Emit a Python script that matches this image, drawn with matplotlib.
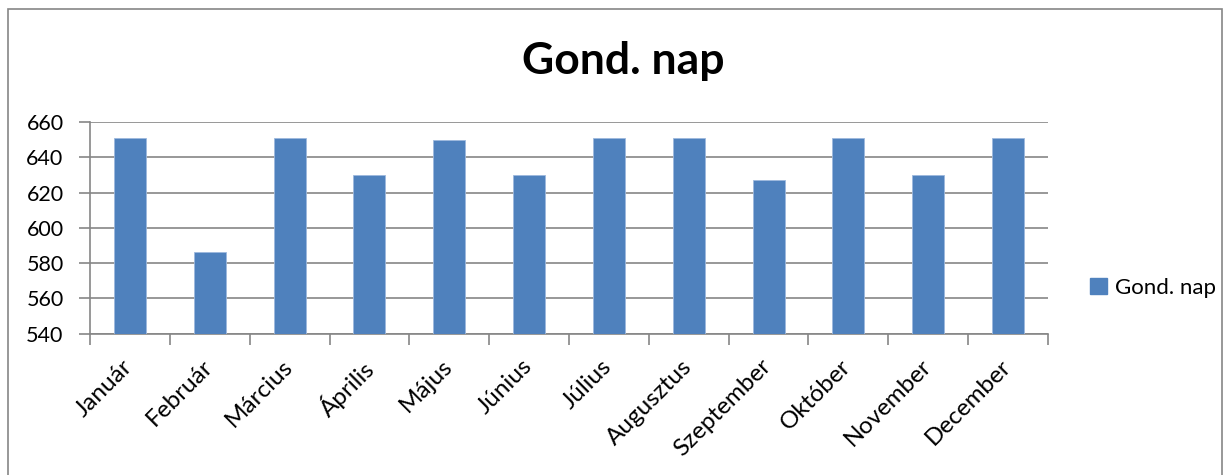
import matplotlib
matplotlib.use("Agg")
import matplotlib.pyplot as plt
import matplotlib.transforms as mtrans
from matplotlib.patches import Rectangle, Patch

months = ["Január", "Február", "Március", "Április", "Május", "Június",
          "Július", "Augusztus", "Szeptember", "Október", "November", "December"]
values = [651, 586, 651, 630, 650, 630, 651, 651, 627, 651, 630, 651]
series_name = "Gond. nap"
yticks = [540, 560, 580, 600, 620, 640, 660]

W, H = 1226, 475
fig = plt.figure(figsize=(W / 100, H / 100), dpi=100)
plt.rcParams['font.family'] = ['Lato', 'DejaVu Sans']

grey = "#868686"
bar_color = "#4F81BD"

# outer chart border
fig.patches.append(Rectangle((8 / W, -0.05), (1222 - 8) / W, (H - 9) / H + 0.05,
                             transform=fig.transFigure, fill=False,
                             edgecolor=grey, linewidth=1.2))

ax = fig.add_axes([90 / W, 1 - 333.5 / H, (1048 - 90) / W, (333.5 - 122) / H])
x = list(range(len(months)))
ax.bar(x, values, width=0.4, color=bar_color, edgecolor="#9DB9DE",
       linewidth=0.6, zorder=3, label=series_name)

ax.set_ylim(540, 660)
ax.set_xlim(-0.5, len(months) - 0.5)
ax.set_yticks(yticks)
ax.set_yticklabels([str(v) for v in yticks], fontsize=15.5)
ax.yaxis.grid(True, color=grey, linewidth=1.2, zorder=0)
ax.tick_params(axis='y', length=8, width=1.2, color=grey, pad=11)

ax.set_xticks([i + 0.5 for i in range(-1, len(months))], minor=False)
ax.set_xticklabels([])
ax.tick_params(axis='x', which='major', length=8, width=1.2, color=grey)
ax.set_xticks(x, minor=True)
ax.set_xticklabels(months, minor=True, rotation=45, ha='right',
                   rotation_mode='anchor', fontsize=17.5)
ax.tick_params(axis='x', which='minor', length=0, pad=16)
shift = mtrans.ScaledTranslation(-8 / 100, 0, fig.dpi_scale_trans)
for lbl in ax.get_xticklabels(minor=True):
    lbl.set_transform(lbl.get_transform() + shift)

for s in ["top", "right"]:
    ax.spines[s].set_visible(False)
ax.spines["left"].set_color(grey)
ax.spines["bottom"].set_color(grey)
ax.spines["left"].set_linewidth(1.2)
ax.spines["bottom"].set_linewidth(1.2)

fig.text(623 / W, 1 - 61 / H, series_name, ha='center', va='center',
         fontsize=32, fontweight='bold')

fig.legend(handles=[Patch(facecolor=bar_color, edgecolor=bar_color, label=series_name)],
           loc='center left', bbox_to_anchor=(1079 / W, 1 - 288 / H),
           frameon=False, fontsize=16, handlelength=0.75, handleheight=0.75,
           handletextpad=0.35, borderpad=0)

fig.savefig("out.png", dpi=100)
